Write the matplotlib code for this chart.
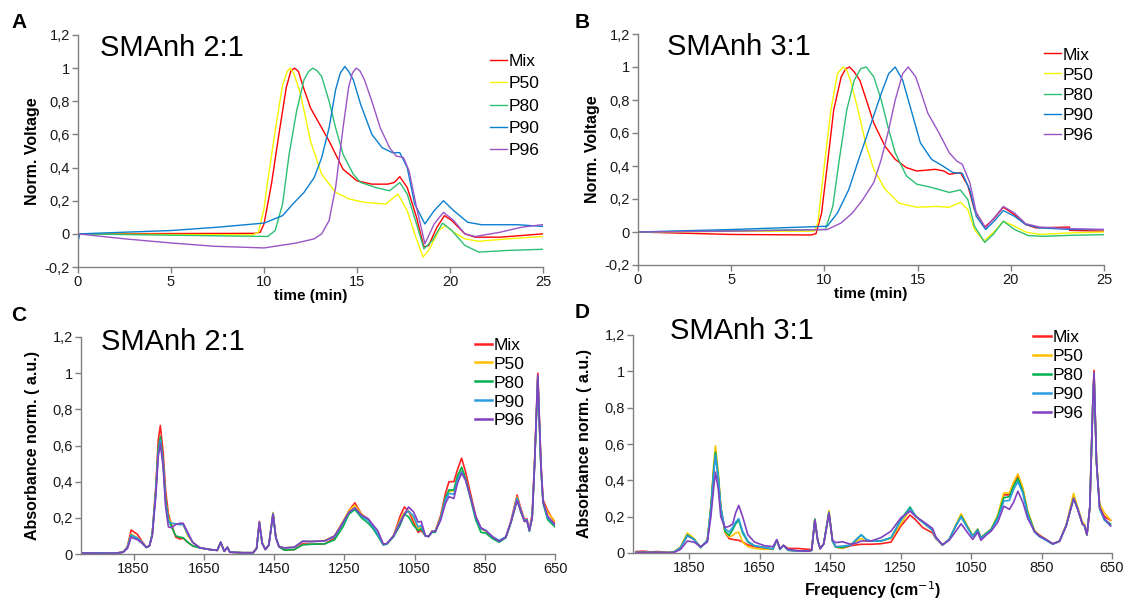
"""
SEC chromatograms (A, B) and FTIR spectra (C, D) of SMAnh fractions
"""

import matplotlib.pyplot as plt
from matplotlib.ticker import FuncFormatter, MultipleLocator

plt.rcParams['font.family'] = ['Liberation Sans', 'DejaVu Sans']

LABELS = ['Mix', 'P50', 'P80', 'P90', 'P96']

# ---- A: SMAnh 2:1, SEC traces (time in min, normalised voltage) ----
A_MIX_T = [0, 5, 9.5, 9.8, 10.0, 10.4, 10.8, 11.2, 11.45, 11.65, 11.85, 12.1, 12.5, 13.0, 13.5, 14.25,
           15.0, 15.8, 16.65, 17.0, 17.3, 17.7, 18.2, 18.6, 18.85, 19.3, 19.7, 20.1, 20.8, 21.35, 22.7, 25]
A_MIX_V = [0, 0.002, 0.003, 0.01, 0.06, 0.3, 0.6, 0.885, 0.985, 1.0, 0.98, 0.89, 0.76, 0.66, 0.56, 0.39,
           0.32, 0.30, 0.30, 0.31, 0.345, 0.28, 0.1, -0.08, -0.07, 0.04, 0.11, 0.08, 0.0, -0.02, -0.02, 0.0]
A_P50_T = [0, 5, 9.4, 9.7, 10.0, 10.2, 10.6, 11.0, 11.25, 11.4, 11.6, 11.95, 12.5, 13.1, 13.85, 14.6,
           15.4, 16.55, 17.2, 17.7, 18.1, 18.55, 18.85, 19.4, 19.75, 20.2, 20.8, 21.55, 23.1, 25]
A_P50_V = [0, -0.004, -0.006, 0.01, 0.15, 0.32, 0.62, 0.9, 0.98, 1.0, 0.97, 0.85, 0.56, 0.36, 0.25, 0.21,
           0.19, 0.18, 0.24, 0.14, 0.0, -0.14, -0.1, 0.02, 0.05, 0.01, -0.03, -0.045, -0.03, -0.016]
A_P80_T = [0, 5, 10.2, 10.6, 11.0, 11.35, 11.75, 12.15, 12.4, 12.63, 12.85, 13.1, 13.5, 13.85, 14.25,
           14.8, 15.2, 16.0, 16.75, 17.3, 17.7, 18.2, 18.6, 19.05, 19.6, 20.1, 20.8, 21.55, 23.1, 25]
A_P80_V = [0, -0.008, -0.016, 0.02, 0.18, 0.48, 0.74, 0.93, 0.98, 1.0, 0.985, 0.95, 0.8, 0.64, 0.48,
           0.36, 0.31, 0.28, 0.26, 0.31, 0.24, 0.06, -0.09, -0.04, 0.065, 0.02, -0.07, -0.11, -0.1, -0.093]
A_P90_T = [0, 0.1, 2.5, 5, 7.5, 10, 11, 11.55, 12.15, 12.7, 13.1, 13.5, 13.85, 14.1, 14.35, 14.55, 14.8,
           15.2, 15.8, 16.35, 16.9, 17.3, 17.7, 18.1, 18.65, 19.15, 19.65, 20.2, 20.95, 21.7, 23.65, 25]
A_P90_V = [-0.045, 0.0, 0.01, 0.02, 0.04, 0.065, 0.11, 0.18, 0.25, 0.34, 0.46, 0.64, 0.87, 0.97, 1.01,
           0.98, 0.93, 0.78, 0.6, 0.52, 0.49, 0.49, 0.4, 0.18, 0.06, 0.14, 0.2, 0.14, 0.07, 0.055, 0.055, 0.045]
A_P96_T = [0, 2.5, 5, 7.35, 10, 11.75, 12.7, 13.1, 13.5, 13.85, 14.25, 14.55, 14.75, 14.95, 15.15, 15.4,
           15.8, 16.25, 16.75, 17.1, 17.5, 17.8, 18.2, 18.65, 19.15, 19.65, 20.2, 20.8, 21.35, 22.7, 23.85, 25]
A_P96_V = [0, -0.03, -0.055, -0.075, -0.085, -0.055, -0.03, 0.0, 0.08, 0.28, 0.64, 0.885, 0.97, 1.0, 0.985,
           0.93, 0.8, 0.64, 0.52, 0.47, 0.46, 0.38, 0.16, -0.06, 0.06, 0.13, 0.08, 0.0, -0.016, 0.01, 0.04, 0.056]

# ---- B: SMAnh 3:1, SEC traces ----
B_MIX_T = [0, 5, 9.3, 9.55, 9.85, 10.15, 10.5, 10.9, 11.15, 11.35, 11.6, 11.9, 12.25, 12.65, 13.25, 13.8,
           14.4, 14.95, 15.5, 15.95, 16.4, 16.7, 17.3, 17.7, 18.05, 18.6, 19.05, 19.6, 20.2, 20.8, 21.35,
           23.15, 23.15, 25]
B_MIX_V = [0, -0.015, -0.018, -0.01, 0.115, 0.4, 0.74, 0.94, 0.99, 1.0, 0.97, 0.92, 0.8, 0.66, 0.52, 0.44,
           0.39, 0.37, 0.375, 0.38, 0.37, 0.35, 0.36, 0.28, 0.135, 0.03, 0.075, 0.15, 0.105, 0.045, 0.025,
           0.03, 0.01, 0.005]
B_P50_T = [0, 5, 9.45, 9.65, 9.95, 10.35, 10.7, 11.0, 11.2, 11.4, 11.8, 12.25, 12.65, 13.25, 14.0, 14.95,
           15.95, 16.7, 17.3, 17.7, 18.05, 18.55, 19.05, 19.6, 20.2, 20.8, 21.55, 23.3, 25]
B_P50_V = [0, 0.004, 0.005, 0.055, 0.36, 0.74, 0.96, 1.0, 0.98, 0.92, 0.74, 0.52, 0.38, 0.26, 0.175, 0.15,
           0.155, 0.15, 0.18, 0.135, 0.015, -0.055, -0.005, 0.065, 0.035, 0.0, -0.015, -0.005, 0.0]
B_P80_T = [0, 5, 10.05, 10.45, 10.8, 11.2, 11.6, 11.95, 12.25, 12.65, 13.05, 13.45, 13.8, 14.4, 14.95,
           15.75, 16.7, 17.3, 17.7, 18.05, 18.6, 19.05, 19.6, 20.2, 20.95, 21.75, 23.3, 25]
B_P80_V = [0, 0.008, 0.015, 0.155, 0.44, 0.74, 0.92, 0.99, 1.0, 0.94, 0.8, 0.62, 0.48, 0.34, 0.29,
           0.27, 0.24, 0.255, 0.195, 0.035, -0.063, -0.015, 0.065, 0.015, -0.022, -0.026, -0.02, -0.016]
B_P90_T = [0, 5, 10.15, 10.7, 11.3, 11.9, 12.45, 13.05, 13.45, 13.8, 14.2, 14.6, 15.15, 15.75, 16.35,
           16.9, 17.4, 17.8, 18.15, 18.65, 19.1, 19.6, 20.2, 20.8, 21.55, 23.3, 25]
B_P90_V = [0, 0.015, 0.035, 0.115, 0.255, 0.46, 0.64, 0.84, 0.96, 1.0, 0.92, 0.76, 0.54, 0.44, 0.4,
           0.36, 0.355, 0.255, 0.095, 0.015, 0.065, 0.13, 0.095, 0.045, 0.025, 0.015, 0.015]
B_P96_T = [0, 5, 10.15, 10.9, 11.5, 12.05, 12.65, 13.05, 13.45, 13.8, 14.2, 14.5, 14.9, 15.2, 15.55,
           16.15, 16.7, 17.1, 17.4, 17.8, 18.15, 18.65, 19.1, 19.6, 20.2, 20.8, 21.55, 23.3, 25]
B_P96_V = [0, 0.005, 0.015, 0.055, 0.115, 0.195, 0.3, 0.44, 0.62, 0.8, 0.96, 1.0, 0.94, 0.84, 0.72,
           0.6, 0.48, 0.43, 0.41, 0.3, 0.115, 0.025, 0.085, 0.155, 0.115, 0.05, 0.03, 0.02, 0.015]

# ---- C: SMAnh 2:1, FTIR (wavenumber cm-1, normalised absorbance) ----
C_WN = [2000, 1950, 1900, 1880, 1868, 1857, 1848, 1840, 1826, 1814,
        1805, 1797, 1787, 1780, 1774, 1766, 1759, 1751, 1742, 1730,
        1718, 1709, 1696, 1682, 1662, 1634, 1612, 1602, 1592, 1583,
        1576, 1540, 1510, 1500, 1492, 1484, 1475, 1465, 1453, 1445,
        1436, 1421, 1393, 1369, 1345, 1306, 1278, 1254, 1237, 1220,
        1201, 1182, 1168, 1155, 1139, 1129, 1110, 1091, 1079, 1067,
        1053, 1040, 1031, 1019, 1010, 1000, 991, 976, 962, 952,
        938, 928, 916, 905, 890, 876, 861, 847, 828, 809,
        790, 775, 758, 747, 737, 730, 723, 715, 708, 699,
        690, 684, 671, 650]
C_MIX = [.005, .005, .005, .012, .04, .133, .12, .11, .07, .037,
         .045, .11, .37, .63, .71, .56, .35, .22, .16, .093,
         .083, .087, .065, .045, .035, .025, .02, .065, .015, .037,
         .01, .007, .007, .03, .18, .06, .025, .05, .226, .09,
         .04, .022, .024, .056, .054, .056, .087, .17, .24, .283,
         .22, .19, .14, .11, .052, .056, .1, .21, .26, .237,
         .177, .12, .13, .1, .097, .127, .127, .21, .335, .4,
         .4, .465, .53, .456, .33, .21, .14, .127, .093, .07,
         .093, .186, .326, .25, .19, .195, .135, .22, .52, 1.0,
         .5, .3, .24, .17]
C_P50 = [.005, .005, .004, .01, .035, .11, .1, .09, .065, .037,
         .045, .11, .35, .57, .64, .5, .3, .2, .17, .167,
         .163, .163, .1, .065, .035, .025, .02, .065, .015, .037,
         .01, .007, .007, .03, .17, .06, .025, .05, .23, .09,
         .04, .034, .037, .07, .069, .075, .1, .18, .24, .27,
         .22, .19, .15, .11, .052, .056, .1, .19, .23, .24,
         .2, .14, .15, .1, .097, .127, .127, .196, .31, .345,
         .35, .43, .475, .42, .31, .205, .14, .127, .093, .07,
         .093, .18, .315, .24, .185, .19, .13, .2, .5, .98,
         .48, .29, .23, .18]
C_P80 = [.005, .005, .004, .01, .035, .105, .095, .088, .06, .035,
         .045, .11, .35, .58, .65, .51, .3, .19, .15, .1,
         .093, .09, .065, .045, .033, .025, .02, .065, .015, .037,
         .01, .007, .007, .03, .17, .06, .025, .05, .22, .09,
         .04, .022, .024, .05, .054, .056, .078, .15, .22, .246,
         .2, .17, .14, .1, .05, .055, .095, .16, .22, .205,
         .158, .13, .14, .1, .097, .12, .12, .196, .31, .354,
         .355, .43, .48, .42, .3, .19, .12, .115, .085, .065,
         .09, .175, .3, .23, .18, .185, .125, .2, .5, .97,
         .47, .28, .19, .15]
C_P90 = [.005, .005, .004, .01, .035, .105, .095, .09, .065, .037,
         .045, .11, .34, .56, .63, .5, .28, .18, .17, .167,
         .163, .163, .11, .065, .035, .025, .02, .065, .015, .037,
         .01, .007, .007, .03, .175, .06, .025, .05, .225, .09,
         .04, .034, .037, .07, .069, .072, .095, .17, .23, .255,
         .21, .185, .15, .11, .052, .056, .1, .18, .22, .237,
         .21, .15, .158, .1, .097, .125, .125, .19, .3, .335,
         .33, .41, .456, .41, .31, .205, .14, .13, .095, .075,
         .095, .18, .31, .24, .185, .19, .13, .2, .5, .98,
         .48, .29, .2, .16]
C_P96 = [.005, .004, .004, .01, .03, .093, .085, .08, .06, .037,
         .045, .1, .32, .54, .61, .48, .26, .15, .145, .163,
         .17, .17, .12, .065, .035, .025, .02, .065, .015, .037,
         .01, .007, .007, .03, .175, .06, .025, .05, .22, .09,
         .04, .034, .037, .07, .069, .072, .1, .175, .23, .255,
         .215, .195, .16, .13, .055, .058, .1, .17, .22, .26,
         .233, .177, .18, .1, .097, .125, .125, .185, .28, .317,
         .307, .39, .447, .41, .31, .21, .145, .13, .095, .07,
         .093, .18, .295, .235, .18, .185, .13, .2, .5, .99,
         .49, .29, .21, .16]

# ---- D: SMAnh 3:1, FTIR ----
D_WN = [2000, 1980, 1960, 1940, 1910, 1893, 1874, 1855, 1836, 1817,
        1798, 1788, 1780, 1775, 1767, 1760, 1748, 1736, 1726, 1718,
        1709, 1698, 1683, 1664, 1636, 1612, 1601, 1592, 1582, 1569,
        1540, 1512, 1502, 1493, 1485, 1478, 1468, 1453, 1443, 1434,
        1415, 1391, 1375, 1361, 1348, 1334, 1306, 1277, 1249, 1223,
        1206, 1187, 1159, 1150, 1131, 1112, 1093, 1078, 1059, 1045,
        1031, 1022, 1006, 993, 974, 957, 941, 929, 917, 903,
        889, 870, 856, 842, 818, 799, 780, 759, 747, 734,
        728, 721, 713, 704, 701, 694, 685, 671, 654]
D_MIX = [.008, .01, .006, .008, .003, .005, .03, .095, .075, .03,
         .07, .25, .45, .55, .42, .25, .115, .079, .075, .072,
         .07, .06, .045, .035, .025, .02, .073, .02, .042, .025,
         .025, .02, .02, .185, .07, .024, .05, .22, .066, .033,
         .026, .04, .045, .048, .048, .048, .051, .06, .148, .209,
         .18, .14, .11, .08, .044, .075, .15, .203, .14, .093,
         .13, .084, .11, .13, .2, .32, .32, .38, .423, .35,
         .22, .12, .1, .08, .05, .065, .15, .31, .24, .16,
         .15, .1, .25, .85, 1.005, .5, .25, .2, .18]
D_P50 = [.003, .003, .003, .003, .002, .004, .035, .11, .08, .03,
         .07, .26, .49, .59, .44, .26, .115, .088, .097, .11,
         .115, .06, .035, .025, .02, .02, .07, .02, .04, .015,
         .01, .01, .015, .189, .07, .024, .05, .234, .066, .033,
         .026, .05, .065, .08, .065, .066, .066, .08, .16, .24,
         .2, .17, .125, .084, .044, .075, .155, .216, .145, .093,
         .13, .084, .11, .13, .21, .33, .33, .39, .436, .36,
         .23, .125, .095, .08, .05, .065, .155, .328, .25, .17,
         .16, .1, .25, .85, .99, .5, .27, .22, .18]
D_P80 = [.003, .003, .003, .003, .002, .004, .03, .1, .075, .03,
         .07, .25, .46, .555, .42, .25, .12, .097, .128, .16,
         .18, .11, .06, .04, .03, .022, .073, .02, .042, .015,
         .012, .01, .015, .185, .07, .024, .05, .225, .066, .033,
         .03, .044, .075, .1, .075, .066, .066, .084, .185, .253,
         .2, .17, .125, .084, .044, .075, .15, .203, .14, .093,
         .13, .084, .11, .13, .2, .304, .31, .37, .41, .34,
         .22, .12, .093, .08, .05, .065, .15, .3, .24, .16,
         .15, .1, .25, .85, .98, .5, .25, .18, .16]
D_P90 = [.003, .003, .003, .003, .002, .004, .03, .095, .075, .03,
         .07, .24, .44, .537, .41, .25, .134, .115, .143, .17,
         .189, .12, .065, .04, .03, .022, .073, .02, .042, .015,
         .01, .01, .015, .185, .07, .024, .05, .22, .066, .035,
         .038, .044, .075, .1, .075, .066, .066, .084, .18, .245,
         .2, .17, .125, .084, .044, .075, .15, .198, .135, .09,
         .125, .08, .105, .125, .19, .286, .29, .35, .392, .33,
         .21, .115, .09, .075, .048, .065, .15, .3, .24, .16,
         .15, .1, .25, .85, .98, .5, .24, .18, .15]
D_P96 = [.003, .003, .003, .003, .002, .003, .02, .066, .06, .035,
         .06, .2, .36, .445, .35, .2, .14, .147, .16, .22,
         .262, .2, .1, .06, .04, .035, .073, .025, .042, .02,
         .012, .01, .015, .18, .07, .024, .05, .22, .07, .057,
         .062, .048, .055, .066, .066, .066, .084, .12, .194, .23,
         .2, .175, .135, .09, .045, .07, .12, .161, .11, .075,
         .115, .07, .1, .12, .17, .258, .24, .28, .34, .28,
         .19, .12, .093, .08, .05, .065, .15, .3, .24, .16,
         .15, .1, .25, .85, .995, .5, .25, .19, .15]

SEC_COLORS = ['#ff0000', '#f5f500', '#2dbf73', '#0a7fd0', '#9a55c4']
IR_COLORS = ['#ff2222', '#ffc000', '#00b050', '#2b9de0', '#8040c0']

W, H = 1124, 600


def comma_fmt(v, pos):
    return f"{round(v, 1) + 0.0:g}".replace('.', ',')


def px_box(left, right, top, bottom):
    """axes rectangle from pixel edges"""
    return [left / W, 1 - bottom / H, (right - left) / W, (bottom - top) / H]


def style_axes(ax):
    for side in ['top', 'right']:
        ax.spines[side].set_visible(False)
    for side in ['left', 'bottom']:
        ax.spines[side].set_color('#808080')
        ax.spines[side].set_linewidth(1.0)
    ax.tick_params(direction='out', length=4, width=1.0, color='#808080',
                   labelsize=10.5, labelcolor='#1a1a1a', pad=2)
    ax.yaxis.set_major_locator(MultipleLocator(0.2))
    ax.yaxis.set_major_formatter(FuncFormatter(comma_fmt))


fig = plt.figure(figsize=(W / 100, H / 100), dpi=100)

# A and B: chromatograms
sec_panels = [
    (px_box(78, 543, 35, 267), [(A_MIX_T, A_MIX_V), (A_P50_T, A_P50_V), (A_P80_T, A_P80_V),
                                (A_P90_T, A_P90_V), (A_P96_T, A_P96_V)], (0.886, 0.92), 0.42),
    (px_box(638, 1104, 34, 265), [(B_MIX_T, B_MIX_V), (B_P50_T, B_P50_V), (B_P80_T, B_P80_V),
                                  (B_P90_T, B_P90_V), (B_P96_T, B_P96_V)], (0.871, 0.942), 0.28),
]
for rect, series, anchor, lspace in sec_panels:
    ax = fig.add_axes(rect)
    for (t, v), c, lab in zip(series, SEC_COLORS, LABELS):
        ax.plot(t, v, color=c, lw=1.0, label=lab)
    ax.set_xlim(0, 25)
    ax.set_ylim(-0.2, 1.2)
    ax.xaxis.set_major_locator(MultipleLocator(5))
    style_axes(ax)
    ax.set_xlabel('time (min)', fontsize=11, fontweight='bold', labelpad=0)
    ax.set_ylabel('Norm. Voltage', fontsize=11.5, fontweight='bold', labelpad=3)
    ax.legend(loc='upper left', bbox_to_anchor=anchor, frameon=False, fontsize=12.5,
              handlelength=1.0, handletextpad=0.1, labelspacing=lspace,
              borderpad=0, borderaxespad=0)

# C and D: FTIR spectra
ir_panels = [
    (px_box(81, 555, 337, 554), C_WN, [C_MIX, C_P50, C_P80, C_P90, C_P96], 2000, (0.831, 0.998)),
    (px_box(633, 1112, 335, 553), D_WN, [D_MIX, D_P50, D_P80, D_P90, D_P96], 2009, (0.836, 1.022)),
]
ir_axes = []
for rect, wn, series, xmax, anchor in ir_panels:
    ax = fig.add_axes(rect)
    for v, c, lab in zip(series, IR_COLORS, LABELS):
        ax.plot(wn, v, color=c, lw=1.2, label=lab)
    ax.set_xlim(xmax, 650)
    ax.set_ylim(0, 1.2)
    ax.set_xticks([1850, 1650, 1450, 1250, 1050, 850, 650])
    style_axes(ax)
    ax.set_ylabel('Absorbance norm. ( a.u.)', fontsize=11.5, fontweight='bold', labelpad=9)
    leg = ax.legend(loc='upper left', bbox_to_anchor=anchor, frameon=False, fontsize=12.5,
                    handlelength=1.0, handletextpad=0.1, labelspacing=0.22,
                    borderpad=0, borderaxespad=0)
    for line in leg.get_lines():
        line.set_linewidth(1.8)
    ir_axes.append(ax)
ir_axes[1].set_xlabel('Frequency (cm$^{-1}$)', fontsize=11.5, fontweight='bold', labelpad=3)

# panel letters and sample titles
for letter, x, y in [('A', 11, 22), ('B', 575, 22), ('C', 11, 316), ('D', 575, 313)]:
    fig.text(x / W, 1 - y / H, letter, fontsize=15, fontweight='bold', va='center', ha='left')
for title, x, y in [('SMAnh 2:1', 100, 48), ('SMAnh 3:1', 667, 47),
                    ('SMAnh 2:1', 101, 342), ('SMAnh 3:1', 670, 331)]:
    fig.text(x / W, 1 - y / H, title, fontsize=21, va='center', ha='left')

fig.savefig('out.png', dpi=100)
